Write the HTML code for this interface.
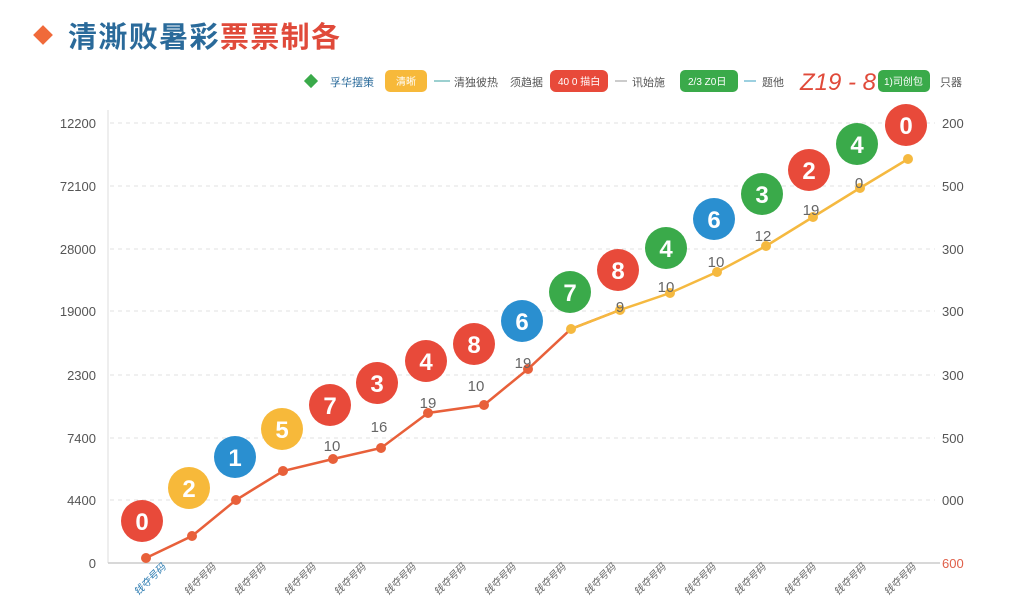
<!DOCTYPE html>
<html><head><meta charset="utf-8"><style>
body{margin:0;background:#fff;width:1024px;height:600px;overflow:hidden;font-family:"Liberation Sans","Noto Sans CJK SC",sans-serif}
</style></head><body>
<svg width="1024" height="600" xmlns="http://www.w3.org/2000/svg" font-family="Liberation Sans, Noto Sans CJK SC, sans-serif">
<rect x="36" y="28" width="14" height="14" fill="#f06a3a" transform="rotate(45 43 35)"/>
<text x="68" y="47" font-size="29" font-weight="bold" fill="#2a6a9a" textLength="272">清澌败暑彩<tspan fill="#e04a3a">票票制各</tspan></text>
<g font-size="11" fill="#555">
<rect x="306" y="76" width="10" height="10" fill="#3aaa4a" transform="rotate(45 311 81)"/>
<text x="330" y="86" fill="#2a6a9a">孚华摆策</text>
<rect x="385" y="70" width="42" height="22" rx="5" fill="#f7b93a"/><text x="396" y="85" fill="#fff" font-size="10">清晰</text>
<line x1="434" y1="81" x2="450" y2="81" stroke="#3aa0a0"/><text x="454" y="86">清独彼热</text>
<text x="510" y="86">须趋据</text>
<rect x="550" y="70" width="58" height="22" rx="6" fill="#e84a3a"/><text x="558" y="85" fill="#fff" font-size="10">40 0 描白</text>
<line x1="615" y1="81" x2="627" y2="81" stroke="#999"/><text x="632" y="86">讯始施</text>
<rect x="680" y="70" width="58" height="22" rx="5" fill="#3aaa4a"/><text x="688" y="85" fill="#fff" font-size="10">2/3 Z0日</text>
<line x1="744" y1="81" x2="756" y2="81" stroke="#3aa0c0"/><text x="762" y="86">题他</text>
<text x="800" y="90" font-size="24" fill="#e04a3a" font-style="italic">Z19 - 8</text>
<rect x="878" y="70" width="52" height="22" rx="5" fill="#3aaa4a"/><text x="884" y="85" fill="#fff" font-size="10">1)司创包</text>
<text x="940" y="86">只器</text>
</g>
<g stroke="#e2e2e2" stroke-dasharray="4 4">
<line x1="110" y1="123" x2="935" y2="123"/><line x1="110" y1="186" x2="935" y2="186"/>
<line x1="110" y1="249" x2="935" y2="249"/><line x1="110" y1="311" x2="935" y2="311"/>
<line x1="110" y1="375" x2="935" y2="375"/><line x1="110" y1="438" x2="935" y2="438"/>
<line x1="110" y1="500" x2="935" y2="500"/>
</g>
<line x1="108" y1="110" x2="108" y2="563" stroke="#ddd"/>
<line x1="108" y1="563" x2="940" y2="563" stroke="#ccc" stroke-width="1.5"/>
<g font-size="13" fill="#555" text-anchor="end">
<text x="96" y="128">12200</text><text x="96" y="191">72100</text><text x="96" y="254">28000</text>
<text x="96" y="316">19000</text><text x="96" y="380">2300</text><text x="96" y="443">7400</text>
<text x="96" y="505">4400</text><text x="96" y="568">0</text>
</g>
<g font-size="13" fill="#555">
<text x="942" y="128">200</text><text x="942" y="191">500</text><text x="942" y="254">300</text>
<text x="942" y="316">300</text><text x="942" y="380">300</text><text x="942" y="443">500</text>
<text x="942" y="505">000</text><text x="942" y="568" fill="#e0604a">600</text>
</g>
<g font-size="10" fill="#666" font-style="italic">
<text transform="translate(138,596) rotate(-45)" fill="#2a7ab0">钱夺号码</text>
<text transform="translate(188,596) rotate(-45)">钱夺号码</text>
<text transform="translate(238,596) rotate(-45)">钱夺号码</text>
<text transform="translate(288,596) rotate(-45)">钱夺号码</text>
<text transform="translate(338,596) rotate(-45)">钱夺号码</text>
<text transform="translate(388,596) rotate(-45)">钱夺号码</text>
<text transform="translate(438,596) rotate(-45)">钱夺号码</text>
<text transform="translate(488,596) rotate(-45)">钱夺号码</text>
<text transform="translate(538,596) rotate(-45)">钱夺号码</text>
<text transform="translate(588,596) rotate(-45)">钱夺号码</text>
<text transform="translate(638,596) rotate(-45)">钱夺号码</text>
<text transform="translate(688,596) rotate(-45)">钱夺号码</text>
<text transform="translate(738,596) rotate(-45)">钱夺号码</text>
<text transform="translate(788,596) rotate(-45)">钱夺号码</text>
<text transform="translate(838,596) rotate(-45)">钱夺号码</text>
<text transform="translate(888,596) rotate(-45)">钱夺号码</text>
</g>
<polyline fill="none" stroke="#e8603a" stroke-width="2.5" points="146,558 192,536 236,500 283,471 333,459 381,448 428,413 484,405 528,369 571,329 620,310"/>
<polyline fill="none" stroke="#f5b940" stroke-width="2.5" points="571,329 620,310 670,293 717,272 766,246 813,217 860,188 908,159"/>
<g fill="#e8603a">
<circle cx="146" cy="558" r="5"/><circle cx="192" cy="536" r="5"/><circle cx="236" cy="500" r="5"/><circle cx="283" cy="471" r="5"/><circle cx="333" cy="459" r="5"/><circle cx="381" cy="448" r="5"/><circle cx="428" cy="413" r="5"/><circle cx="484" cy="405" r="5"/><circle cx="528" cy="369" r="5"/>
</g>
<g fill="#f5b940">
<circle cx="571" cy="329" r="5"/><circle cx="620" cy="310" r="5"/><circle cx="670" cy="293" r="5"/><circle cx="717" cy="272" r="5"/><circle cx="766" cy="246" r="5"/><circle cx="813" cy="217" r="5"/><circle cx="860" cy="188" r="5"/><circle cx="908" cy="159" r="5"/>
</g>
<g font-size="15" fill="#666" text-anchor="middle">
<text x="332" y="451">10</text><text x="379" y="432">16</text><text x="428" y="408">19</text><text x="476" y="391">10</text><text x="523" y="368">19</text><text x="620" y="312">9</text><text x="666" y="292">10</text><text x="716" y="267">10</text><text x="763" y="241">12</text><text x="811" y="215">19</text><text x="859" y="188">0</text>
</g>
<g font-size="24" font-weight="bold" fill="#fff" text-anchor="middle">
<circle cx="142" cy="521" r="21" fill="#e84a3a"/><text x="142" y="530">0</text>
<circle cx="189" cy="488" r="21" fill="#f7b93a"/><text x="189" y="497">2</text>
<circle cx="235" cy="457" r="21" fill="#2a8fd0"/><text x="235" y="466">1</text>
<circle cx="282" cy="429" r="21" fill="#f7b93a"/><text x="282" y="438">5</text>
<circle cx="330" cy="405" r="21" fill="#e84a3a"/><text x="330" y="414">7</text>
<circle cx="377" cy="383" r="21" fill="#e84a3a"/><text x="377" y="392">3</text>
<circle cx="426" cy="361" r="21" fill="#e84a3a"/><text x="426" y="370">4</text>
<circle cx="474" cy="344" r="21" fill="#e84a3a"/><text x="474" y="353">8</text>
<circle cx="522" cy="321" r="21" fill="#2a8fd0"/><text x="522" y="330">6</text>
<circle cx="570" cy="292" r="21" fill="#3aaa4a"/><text x="570" y="301">7</text>
<circle cx="618" cy="270" r="21" fill="#e84a3a"/><text x="618" y="279">8</text>
<circle cx="666" cy="248" r="21" fill="#3aaa4a"/><text x="666" y="257">4</text>
<circle cx="714" cy="219" r="21" fill="#2a8fd0"/><text x="714" y="228">6</text>
<circle cx="762" cy="194" r="21" fill="#3aaa4a"/><text x="762" y="203">3</text>
<circle cx="809" cy="170" r="21" fill="#e84a3a"/><text x="809" y="179">2</text>
<circle cx="857" cy="144" r="21" fill="#3aaa4a"/><text x="857" y="153">4</text>
<circle cx="906" cy="125" r="21" fill="#e84a3a"/><text x="906" y="134">0</text>
</g>
</svg>
</body></html>
